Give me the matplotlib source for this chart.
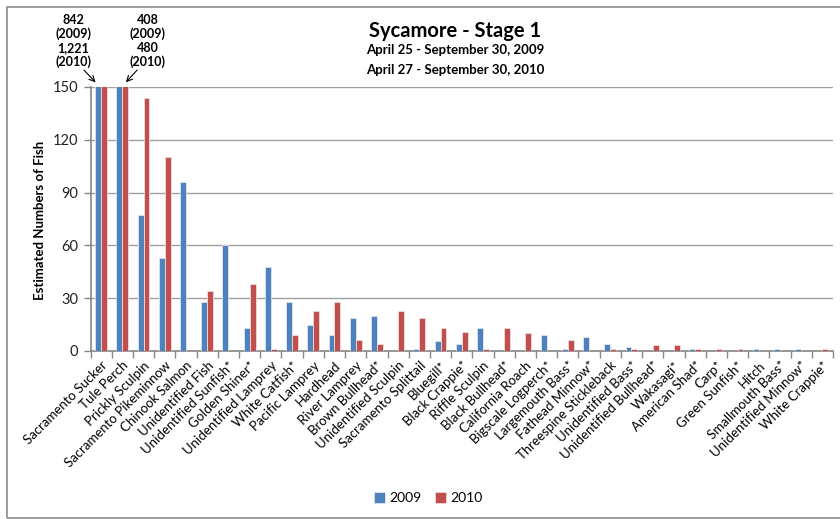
import numpy as np
import matplotlib
matplotlib.use("Agg")
import matplotlib.pyplot as plt
from matplotlib.patches import Rectangle

categories = ["Sacramento Sucker", "Tule Perch", "Prickly Sculpin", "Sacramento Pikeminnow",
              "Chinook Salmon", "Unidentified Fish", "Unidentified Sunfish*", "Golden Shiner*",
              "Unidentified Lamprey", "White Catfish*", "Pacific Lamprey", "Hardhead",
              "River Lamprey", "Brown Bullhead*", "Unidentified Sculpin", "Sacramento Splittail",
              "Bluegill*", "Black Crappie*", "Riffle Sculpin", "Black Bullhead*",
              "California Roach", "Bigscale Logperch*", "Largemouth Bass*", "Fathead Minnow*",
              "Threespine Stickleback", "Unidentified Bass*", "Unidentified Bullhead*", "Wakasagi*",
              "American Shad*", "Carp*", "Green Sunfish*", "Hitch", "Smallmouth Bass*",
              "Unidentified Minnow*", "White Crappie*"]
v2009 = [842, 408, 77, 53, 96, 28, 60, 13, 47.5, 28, 15, 9, 19, 20, 0, 1, 5.5, 4, 13, 0,
         0, 9, 1, 8, 4, 2.5, 0, 0, 1, 0, 0, 1, 1, 1, 0]
v2010 = [1221, 480, 144, 110, 0, 34, 0, 38, 1, 9, 22.5, 28, 6.5, 4, 23, 19, 13, 11, 1, 13,
         10, 0, 6.5, 0, 1, 1, 3.5, 3.5, 1, 1, 1, 0, 0, 0, 1]
yticks = [0, 30, 60, 90, 120, 150]

plt.rcParams['font.family'] = ['Lato', 'DejaVu Sans']

W, H = 840, 519
fig = plt.figure(figsize=(W / 100, H / 100), dpi=100)
ax = fig.add_axes([90.5 / W, 1 - 351 / H, (833 - 90.5) / W, (351 - 87) / H])

x = np.arange(len(categories))
w = 0.28
blue = '#4F81BD'
red = '#C0504D'
ax.bar(x - w / 2, v2009, w, color=blue, edgecolor='#DCE6F2', linewidth=0.6, label='2009', zorder=3)
ax.bar(x + w / 2, v2010, w, color=red, edgecolor='#F2DCDB', linewidth=0.6, label='2010', zorder=3)

ax.set_xlim(-0.5, len(categories) - 0.5)
ax.set_ylim(0, 150)
ax.set_yticks(yticks)
ax.set_yticklabels([str(t) for t in yticks], fontsize=10.5, color='#222222')
ax.yaxis.grid(True, color='#A0A0A0', linewidth=1.0, zorder=0)
ax.set_axisbelow(True)

ax.set_xticks(x)
ax.set_xticklabels(categories, rotation=45, ha='right', rotation_mode='anchor', fontsize=9.5)
ax.set_xticks(np.arange(-0.5, len(categories)), minor=True)
ax.tick_params(axis='x', which='major', length=0, pad=6)
ax.tick_params(axis='x', which='minor', length=5, color='#868686', width=1)
ax.tick_params(axis='y', length=5, color='#868686', width=1, pad=4)

for s in ['top', 'right']:
    ax.spines[s].set_visible(False)
for s in ['left', 'bottom']:
    ax.spines[s].set_color('#868686')
    ax.spines[s].set_linewidth(1.2)

# Title
fig.text(455 / W, 1 - 31 / H, "Sycamore - Stage 1", ha='center', va='center', fontsize=14.5, fontweight='bold')
fig.text(455 / W, 1 - 50 / H, "April 25 - September 30, 2009", ha='center', va='center', fontsize=9.5, fontweight='bold')
fig.text(455 / W, 1 - 70 / H, "April 27 - September 30, 2010", ha='center', va='center', fontsize=9.5, fontweight='bold')

fig.text(40 / W, 1 - 220 / H, "Estimated Numbers of Fish", rotation=90, ha='center', va='center',
         fontsize=9.5, fontweight='bold')

# Annotations for clipped bars
fig.text(73 / W, 1 - 41 / H, "842\n(2009)\n1,221\n(2010)", ha='center', va='center',
         fontsize=9, fontweight='bold', linespacing=1.15)
fig.text(148 / W, 1 - 41 / H, "408\n(2009)\n480\n(2010)", ha='center', va='center',
         fontsize=9, fontweight='bold', linespacing=1.15)
ax.annotate('', xy=(-0.17, 151.5), xycoords='data', xytext=(82, H - 68), textcoords='figure pixels',
            arrowprops=dict(arrowstyle='->', color='black', lw=0.8), annotation_clip=False)
ax.annotate('', xy=(1.08, 151.5), xycoords='data', xytext=(139, H - 68), textcoords='figure pixels',
            arrowprops=dict(arrowstyle='->', color='black', lw=0.8), annotation_clip=False)

fig.legend(loc='center', bbox_to_anchor=(428 / W, 1 - 498 / H), ncol=2, frameon=False,
           fontsize=10, handlelength=0.8, handleheight=0.8, handletextpad=0.3, columnspacing=1.0)

# Chart area border
fig.patches.append(Rectangle((7 / W, 1 - 518 / H), 1.2, (518 - 7) / H, transform=fig.transFigure,
                             fill=False, edgecolor='#8C8C8C', linewidth=1.2))

fig.savefig('out.png', dpi=100)
